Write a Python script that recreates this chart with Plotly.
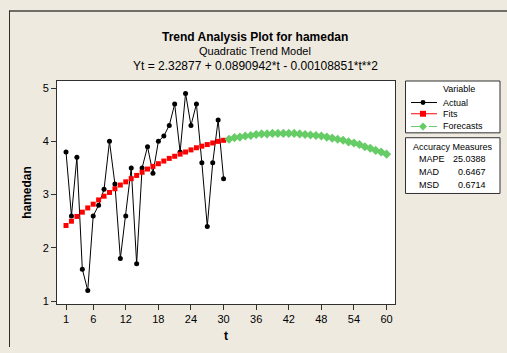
import plotly.graph_objects as go

t_actual = list(range(1, 31))
actual = [3.8, 2.6, 3.7, 1.6, 1.2, 2.6, 2.8, 3.1, 4.0, 3.2,
          1.8, 2.6, 3.5, 1.7, 3.5, 3.9, 3.4, 4.0, 4.1, 4.3,
          4.7, 3.8, 4.9, 4.3, 4.7, 3.6, 2.4, 3.6, 4.4, 3.3]
fits = [2.42, 2.50, 2.59, 2.67, 2.75, 2.82, 2.90, 2.97, 3.04, 3.11,
        3.18, 3.24, 3.30, 3.36, 3.42, 3.48, 3.53, 3.58, 3.63, 3.68,
        3.72, 3.76, 3.80, 3.84, 3.88, 3.91, 3.94, 3.97, 4.00, 4.02]
t_forecast = list(range(31, 61))
forecasts = [4.04, 4.07, 4.08, 4.10, 4.11, 4.13, 4.14, 4.14, 4.15, 4.15,
             4.15, 4.15, 4.15, 4.14, 4.13, 4.12, 4.11, 4.10, 4.08, 4.06,
             4.04, 4.02, 3.99, 3.97, 3.94, 3.90, 3.87, 3.83, 3.80, 3.76]
x_ticks = [1, 6, 12, 18, 24, 30, 36, 42, 48, 54, 60]
y_ticks = [1, 2, 3, 4, 5]
accuracy_labels = ["MAPE", "MAD", "MSD"]
accuracy_values = ["25.0388", "0.6467", "0.6714"]

W, H = 507, 353
L, R, T, B = 57, 395, 81, 309
FONT = "Liberation Sans, Arial, sans-serif"
BG = "#EEEAE0"
GREEN = "#66CC66"


def px(x):
    return (x - L) / (R - L)


def py(y):
    return (B - y) / (B - T)


fig = go.Figure()
fig.add_trace(go.Scatter(x=t_actual, y=actual, mode="lines+markers",
                         line=dict(color="black", width=1),
                         marker=dict(symbol="circle", size=5, color="black"),
                         cliponaxis=False, showlegend=False))
fig.add_trace(go.Scatter(x=t_actual, y=fits, mode="markers",
                         marker=dict(symbol="square", size=5, color="#FF0000"),
                         showlegend=False))
fig.add_trace(go.Scatter(x=t_forecast, y=forecasts, mode="markers",
                         marker=dict(symbol="diamond", size=7, color=GREEN),
                         showlegend=False))

shapes = []
ann = []
# outer window borders
shapes.append(dict(type="line", xref="paper", yref="paper", x0=px(9), x1=px(507),
                   y0=py(9.5), y1=py(9.5), line=dict(color="#6E6E66", width=2)))
shapes.append(dict(type="line", xref="paper", yref="paper", x0=px(9.5), x1=px(9.5),
                   y0=py(9), y1=py(353), line=dict(color="#303030", width=1)))

# legend box
shapes.append(dict(type="rect", xref="paper", yref="paper", x0=px(405.5), x1=px(500),
                   y0=py(81), y1=py(134), line=dict(color="#303030", width=1),
                   fillcolor="white"))
ann.append(dict(text="Variable", x=px(459), y=py(89)))
rows = [("Actual", 103, "black", "solid"), ("Fits", 114.5, "#FF0000", "solid"),
        ("Forecasts", 127.5, GREEN, "dash")]
for name, yy, col, dash in rows:
    shapes.append(dict(type="line", xref="paper", yref="paper", x0=px(411), x1=px(437),
                       y0=py(yy), y1=py(yy), line=dict(color=col, width=1, dash=dash)))
    ann.append(dict(text=name, x=px(441), y=py(yy), xanchor="left"))
# legend symbols
shapes.append(dict(type="circle", xref="paper", yref="paper", x0=px(420.5), x1=px(425.5),
                   y0=py(100.5), y1=py(105.5), fillcolor="black", line=dict(width=0)))
shapes.append(dict(type="rect", xref="paper", yref="paper", x0=px(420), x1=px(426),
                   y0=py(111.5), y1=py(117.5), fillcolor="#FF0000", line=dict(width=0)))
cx, cy = 423, 127.5
path = "M {} {} L {} {} L {} {} L {} {} Z".format(
    px(cx), py(cy - 4), px(cx + 4), py(cy), px(cx), py(cy + 4), px(cx - 4), py(cy))
shapes.append(dict(type="path", xref="paper", yref="paper", path=path,
                   fillcolor=GREEN, line=dict(width=0)))

# accuracy box
shapes.append(dict(type="rect", xref="paper", yref="paper", x0=px(405.5), x1=px(500),
                   y0=py(139), y1=py(196), line=dict(color="#303030", width=1),
                   fillcolor="white"))
ann.append(dict(text="Accuracy Measures", x=px(453), y=py(148)))
for i, (lab, val) in enumerate(zip(accuracy_labels, accuracy_values)):
    yy = 161 + 13.3 * i
    ann.append(dict(text=lab, x=px(417), y=py(yy), xanchor="left"))
    ann.append(dict(text=val, x=px(488), y=py(yy), xanchor="right"))

annotations = []
for a in ann:
    d = dict(xref="paper", yref="paper", showarrow=False, yanchor="middle",
             xanchor=a.get("xanchor", "center"), x=a["x"], y=a["y"], text=a["text"],
             font=dict(family=FONT, size=9, color="black"))
    annotations.append(d)

# titles
titles = [("<b>Trend Analysis Plot for hamedan</b>", 36, 12),
          ("Quadratic Trend Model", 50, 11),
          ("Yt = 2.32877 + 0.0890942*t - 0.00108851*t**2", 66, 12)]
for txt, yy, sz in titles:
    annotations.append(dict(xref="paper", yref="paper", showarrow=False,
                            x=px(255), y=py(yy), xanchor="center", yanchor="middle",
                            text=txt, font=dict(family=FONT, size=sz, color="black")))

fig.update_layout(
    width=W, height=H, autosize=False,
    margin=dict(l=L, r=W - R, t=T, b=H - B),
    paper_bgcolor=BG, plot_bgcolor="white",
    shapes=shapes, annotations=annotations, showlegend=False,
    xaxis=dict(range=[-0.66, 61.55], tickvals=x_ticks, ticks="outside", ticklen=5,
               tickcolor="#303030", showgrid=False, zeroline=False, showline=True,
               mirror=True, linecolor="#303030", linewidth=1,
               tickfont=dict(family=FONT, size=11, color="black"),
               title=dict(text="<b>t</b>", font=dict(family=FONT, size=12, color="black"),
                          standoff=7)),
    yaxis=dict(range=[0.945, 5.134], tickvals=y_ticks, ticks="outside", ticklen=5,
               tickcolor="#303030", showgrid=False, zeroline=False, showline=True,
               mirror=True, linecolor="#303030", linewidth=1,
               tickfont=dict(family=FONT, size=11, color="black"),
               title=dict(text="<b>hamedan</b>", font=dict(family=FONT, size=12, color="black"),
                          standoff=8)),
)

fig.write_html("out.html")
